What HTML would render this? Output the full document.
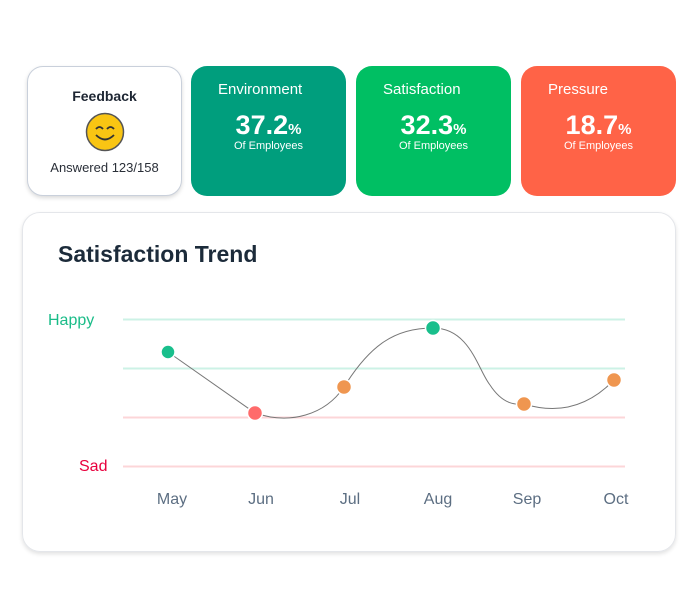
<!DOCTYPE html>
<html><head><meta charset="utf-8"><style>
body{margin:0;width:700px;height:600px;background:#fff;font-family:"Liberation Sans",sans-serif;position:relative;overflow:hidden}
.c{position:absolute;top:66px;height:130px;border-radius:16px;box-sizing:border-box}
.fb{left:27px;width:155px;border:1.5px solid #c9d0db;background:#fff;box-shadow:0 2px 4px rgba(0,0,0,.15);text-align:center}
.m{width:155px;color:#fff}
.m .t{position:absolute;left:27px;top:15px;font-size:15px}
.m .v{position:absolute;left:0;right:0;top:44px;text-align:center;font-size:27px;font-weight:bold}
.m .v span{font-size:15px}
.m .s{position:absolute;left:0;right:0;top:74px;text-align:center;font-size:11px}
.chart{position:absolute;left:22px;top:212px;width:654px;height:340px;border:1px solid #e4e6ea;border-radius:18px;box-sizing:border-box;box-shadow:0 2px 4px rgba(0,0,0,.12)}
</style></head><body>
<div class="c fb">
<div style="position:absolute;top:21px;left:0;right:0;font-size:14px;font-weight:bold;color:#1e2633">Feedback</div>
<svg style="position:absolute;left:57px;top:45px" width="40" height="40"><circle cx="20" cy="20" r="18.5" fill="#f9c513" stroke="#555" stroke-width="1.5"/><path d="M11 17 q3.5-4 7 0 M22 17 q3.5-4 7 0" fill="none" stroke="#333" stroke-width="1.8"/><path d="M11 23 q9 9 18 0" fill="none" stroke="#333" stroke-width="1.8"/></svg>
<div style="position:absolute;top:93px;left:0;right:0;font-size:13px;color:#2a2f38">Answered 123/158</div>
</div>
<div class="c m" style="left:191px;background:#009e7d"><div class="t">Environment</div><div class="v">37.2<span>%</span></div><div class="s">Of Employees</div></div>
<div class="c m" style="left:356px;background:#00bf63"><div class="t">Satisfaction</div><div class="v">32.3<span>%</span></div><div class="s">Of Employees</div></div>
<div class="c m" style="left:521px;background:#ff6347"><div class="t">Pressure</div><div class="v">18.7<span>%</span></div><div class="s">Of Employees</div></div>
<div class="chart"></div>
<svg style="position:absolute;left:0;top:0" width="700" height="600">
<text x="58" y="262" font-size="23" font-weight="bold" fill="#1c2b3a" font-family="Liberation Sans">Satisfaction Trend</text>
<line x1="123" y1="319.5" x2="625" y2="319.5" stroke="#ccf2e6" stroke-width="2"/>
<line x1="123" y1="368.5" x2="625" y2="368.5" stroke="#ccf2e6" stroke-width="2"/>
<line x1="123" y1="417.5" x2="625" y2="417.5" stroke="#fcd6d8" stroke-width="2"/>
<line x1="123" y1="466.5" x2="625" y2="466.5" stroke="#fcd6d8" stroke-width="2"/>
<text x="48" y="325" font-size="16" fill="#1abc88" font-family="Liberation Sans">Happy</text>
<text x="79" y="471" font-size="16" fill="#e8003d" font-family="Liberation Sans">Sad</text>
<path d="M168 352 L255 413 C290 425 325 415 344 387 C370 345 395 328 433 328 C470 328 478 370 490 385 C505 408 520 404 524 404 C560 415 590 405 614 380" fill="none" stroke="#777" stroke-width="1"/>
<circle cx="168" cy="352" r="7" fill="#19bf8c" stroke="#fff" stroke-width="1.5"/>
<circle cx="255" cy="413" r="7.5" fill="#ff6b6b" stroke="#fff" stroke-width="1.5"/>
<circle cx="344" cy="387" r="7.5" fill="#ef9650" stroke="#fff" stroke-width="1.5"/>
<circle cx="433" cy="328" r="7.5" fill="#19bf8c" stroke="#fff" stroke-width="1.5"/>
<circle cx="524" cy="404" r="7.5" fill="#ef9650" stroke="#fff" stroke-width="1.5"/>
<circle cx="614" cy="380" r="7.5" fill="#ef9650" stroke="#fff" stroke-width="1.5"/>
<g font-size="16" fill="#5c6e82" font-family="Liberation Sans" text-anchor="middle">
<text x="172" y="504">May</text><text x="261" y="504">Jun</text><text x="350" y="504">Jul</text><text x="438" y="504">Aug</text><text x="527" y="504">Sep</text><text x="616" y="504">Oct</text>
</g>
</svg>
</body></html>
